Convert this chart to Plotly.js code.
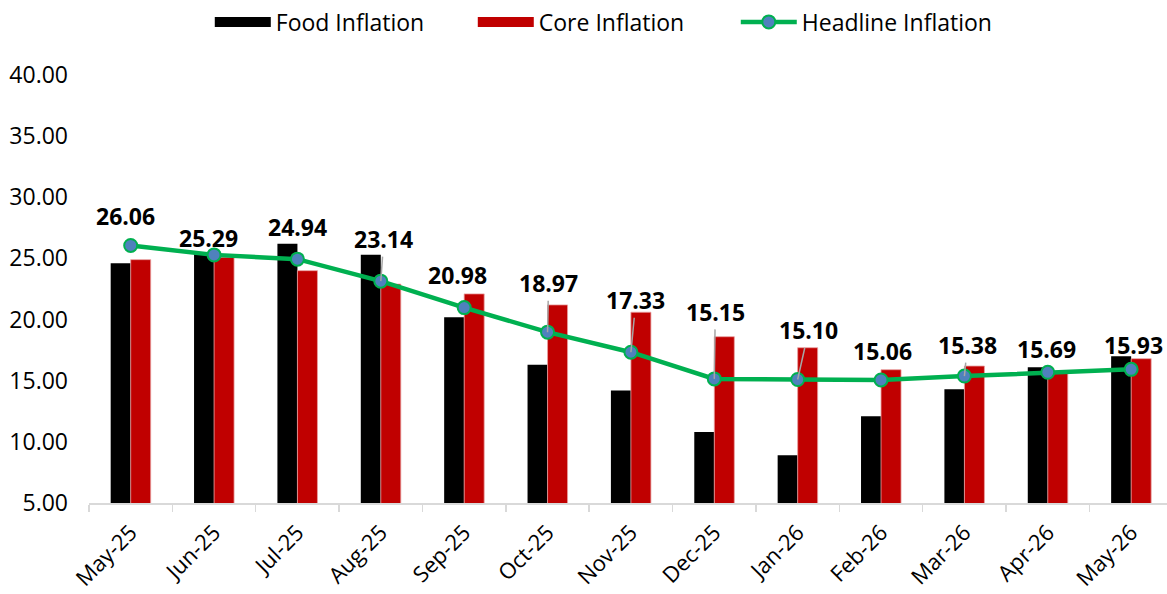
<!DOCTYPE html>
<html>
<head>
<meta charset="utf-8">
<script src="https://cdn.plot.ly/plotly-3.0.1.min.js"></script>
<style>html,body{margin:0;padding:0;background:#fff;}#chart{width:1167px;height:594px;}</style>
</head>
<body>
<div id="chart"></div>
<script>
const months = ["May-25","Jun-25","Jul-25","Aug-25","Sep-25","Oct-25","Nov-25","Dec-25","Jan-26","Feb-26","Mar-26","Apr-26","May-26"];
const foodInflation = [24.6, 25.5, 26.2, 25.3, 20.2, 16.3, 14.2, 10.8, 8.9, 12.1, 14.3, 16.1, 17.0];
const coreInflation = [24.9, 25.1, 24.0, 22.9, 22.1, 21.2, 20.6, 18.6, 17.7, 15.9, 16.2, 15.7, 16.8];
const headlineInflation = [26.06, 25.29, 24.94, 23.14, 20.98, 18.97, 17.33, 15.15, 15.10, 15.06, 15.38, 15.69, 15.93];

// label placement (pixel offsets from each point) and whether a leader line is drawn
const labelOffsetX = [-5, -6, 0, 3, -7, 1, 5, 1, 11, 1, 3, -1, 2];
const labelOffsetY = [-29, -17, -32, -42, -33, -49, -52, -67, -49, -29, -31, -23, -24];
const leaderLine = [false, false, false, true, false, true, true, true, true, false, true, false, false];

const FONT = "Open Sans, Lato, sans-serif";
const noValues = months.map(() => null);

const traces = [
  {type: "bar", name: "Food Inflation", x: months, y: foodInflation, showlegend: false, legendgroup: "food",
   marker: {color: "#000000"}},
  {type: "bar", name: "Core Inflation", x: months, y: coreInflation, showlegend: false, legendgroup: "core",
   marker: {color: "#C00000", line: {color: "#E8A0A0", width: 0.8}}},
  {type: "scatter", mode: "lines+markers", name: "Headline Inflation", x: months, y: headlineInflation,
   showlegend: false, legendgroup: "head",
   line: {color: "#00B050", width: 4.5},
   marker: {color: "#4F81BD", size: 13, line: {color: "#00B050", width: 2}}},
  // legend entries (wide swatches as in the reference)
  {type: "scatter", mode: "lines", name: "Food Inflation", x: months, y: noValues, legendgroup: "food",
   line: {color: "#000000", width: 13}, hoverinfo: "skip"},
  {type: "scatter", mode: "lines", name: "Core Inflation", x: months, y: noValues, legendgroup: "core",
   line: {color: "#C00000", width: 13}, hoverinfo: "skip"},
  {type: "scatter", mode: "lines+markers", name: "Headline Inflation", x: months, y: noValues, legendgroup: "head",
   line: {color: "#00B050", width: 4.5},
   marker: {color: "#4F81BD", size: 13, line: {color: "#00B050", width: 2}}, hoverinfo: "skip"}
];

const annotations = months.map((m, i) => ({
  x: m, y: headlineInflation[i], xref: "x", yref: "y",
  text: "<b>" + headlineInflation[i].toFixed(2) + "</b>",
  showarrow: true, arrowhead: 0, standoff: 0,
  arrowwidth: 1.5,
  arrowcolor: leaderLine[i] ? "#A6A6A6" : "rgba(0,0,0,0)",
  ax: labelOffsetX[i], ay: labelOffsetY[i],
  font: {family: FONT, size: 23, color: "#000000"}
}));

const layout = {
  width: 1167, height: 594,
  margin: {l: 89, r: 0, t: 75, b: 91},
  paper_bgcolor: "#ffffff", plot_bgcolor: "#ffffff",
  font: {family: FONT, color: "#000000"},
  barmode: "group", bargap: 0.52, bargroupgap: 0,
  showlegend: true,
  legend: {orientation: "h", x: 0.478, xanchor: "center", y: 1.124, yanchor: "middle",
           font: {family: FONT, size: 23, color: "#000000"}, itemwidth: 56,
           entrywidth: 192, entrywidthmode: "pixels", traceorder: "normal"},
  xaxis: {type: "category", range: [-0.5, 12.43], showline: true, linecolor: "#D9D9D9", linewidth: 2,
          ticks: "outside", tickson: "boundaries", ticklen: 7, tickcolor: "#D9D9D9", tickwidth: 1.5,
          tickangle: -45, ticklabelstandoff: 6,
          tickfont: {family: FONT, size: 22, color: "#000000"}, showgrid: false, zeroline: false},
  yaxis: {range: [5, 40], dtick: 5, tick0: 5, tickformat: ".2f", showgrid: false, zeroline: false, showline: false,
          ticks: "", ticklabelstandoff: 20, tickfont: {family: FONT, size: 23, color: "#000000"}},
  annotations: annotations
};

Plotly.newPlot("chart", traces, layout, {displayModeBar: false, staticPlot: true});
</script>
</body>
</html>
